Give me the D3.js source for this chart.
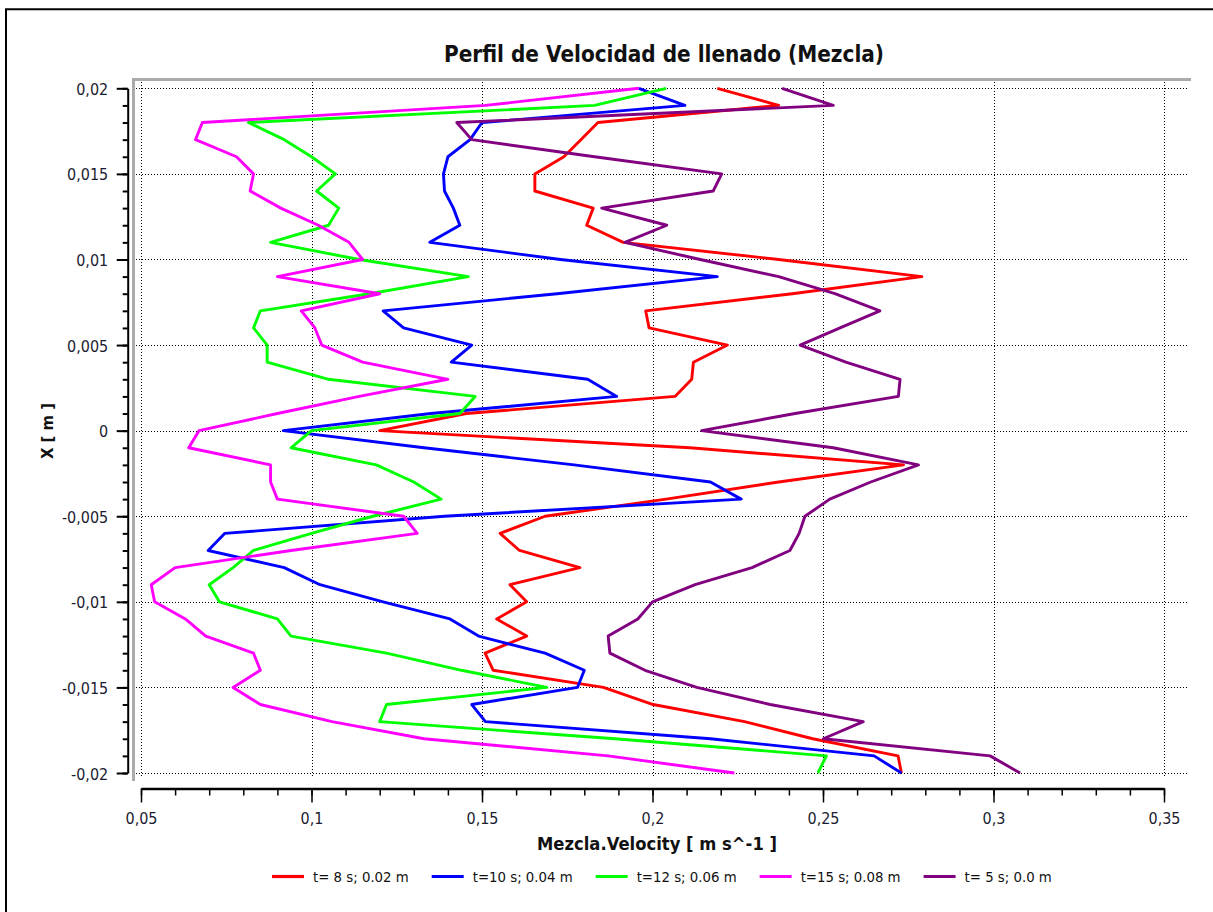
<!DOCTYPE html>
<html>
<head>
<meta charset="utf-8">
<script src="https://cdn.jsdelivr.net/npm/d3@7"></script>
<style>
  html, body { margin: 0; padding: 0; background: #fff; }
  svg { display: block; }
  text { font-family: "DejaVu Sans", Verdana, sans-serif; }
</style>
</head>
<body>
<svg id="chart" width="1213" height="912"></svg>
<script>
// Sample positions along the probe line, X [m]
const positions = [
  0.020, 0.019, 0.018, 0.017, 0.016, 0.015, 0.014, 0.013, 0.012, 0.011,
  0.010, 0.009, 0.008, 0.007, 0.006, 0.005, 0.004, 0.003, 0.002, 0.001,
  0.000, -0.001, -0.002, -0.003, -0.004, -0.005, -0.006, -0.007, -0.008, -0.009,
  -0.010, -0.011, -0.012, -0.013, -0.014, -0.015, -0.016, -0.017, -0.018, -0.019,
  -0.020
];

// Mezcla.Velocity [m s^-1] at each position
const velT8 = [
  0.219, 0.237, 0.184, 0.179, 0.174, 0.1655, 0.1655, 0.1826, 0.1807, 0.1914,
  0.237, 0.279, 0.241, 0.198, 0.199, 0.222, 0.212, 0.2115, 0.2066, 0.1454,
  0.120, 0.211, 0.2736, 0.237, 0.204, 0.1685, 0.1553, 0.161, 0.1787, 0.1582,
  0.1631, 0.1543, 0.1631, 0.1509, 0.1533, 0.1856, 0.2002, 0.227, 0.247, 0.272,
  0.273
];
const velT10 = [
  0.196, 0.2095, 0.150, 0.1465, 0.140, 0.1387, 0.139, 0.1416, 0.1435, 0.1347,
  0.173, 0.219, 0.172, 0.121, 0.127, 0.147, 0.141, 0.181, 0.1895, 0.135,
  0.0917, 0.133, 0.177, 0.217, 0.226, 0.139, 0.0746, 0.0697, 0.092, 0.1025,
  0.121, 0.1406, 0.149, 0.1685, 0.180, 0.178, 0.147, 0.151, 0.217, 0.265,
  0.273
];
const velT12 = [
  0.204, 0.183, 0.0815, 0.092, 0.100, 0.107, 0.1015, 0.108, 0.105, 0.088,
  0.114, 0.146, 0.117, 0.085, 0.083, 0.087, 0.087, 0.105, 0.148, 0.1435,
  0.100, 0.094, 0.119, 0.130, 0.138, 0.118, 0.100, 0.083, 0.077, 0.070,
  0.073, 0.090, 0.094, 0.122, 0.144, 0.169, 0.122, 0.120, 0.189, 0.251,
  0.2485
];
const velT15 = [
  0.196, 0.151, 0.068, 0.066, 0.078, 0.083, 0.082, 0.091, 0.102, 0.111,
  0.115, 0.090, 0.120, 0.097, 0.101, 0.103, 0.115, 0.140, 0.114, 0.090,
  0.067, 0.064, 0.088, 0.088, 0.090, 0.127, 0.131, 0.094, 0.060, 0.053,
  0.054, 0.063, 0.069, 0.083, 0.085, 0.077, 0.085, 0.106, 0.133, 0.187,
  0.224
];
const velT5 = [
  0.238, 0.253, 0.1426, 0.147, 0.183, 0.2203, 0.2178, 0.1851, 0.2042, 0.1919,
  0.214, 0.237, 0.2535, 0.2667, 0.255, 0.2433, 0.2567, 0.2726, 0.2721, 0.2418,
  0.2144, 0.253, 0.278, 0.264, 0.252, 0.2447, 0.243, 0.2403, 0.2292, 0.2125,
  0.200, 0.1957, 0.187, 0.1875, 0.1978, 0.213, 0.2345, 0.2618, 0.2501, 0.299,
  0.3078
];

const seriesNames = ["t= 8 s; 0.02 m", "t=10 s; 0.04 m", "t=12 s; 0.06 m", "t=15 s; 0.08 m", "t= 5 s; 0.0 m"];
const seriesValues = [velT8, velT10, velT12, velT15, velT5];
const seriesColors = ["#ff0000", "#0000ff", "#00ff00", "#ff00ff", "#800080"];

const xTickValues = [0.05, 0.1, 0.15, 0.2, 0.25, 0.3, 0.35];
const yTickValues = [0.02, 0.015, 0.01, 0.005, 0, -0.005, -0.01, -0.015, -0.02];

const chartTitle = "Perfil de Velocidad de llenado (Mezcla)";
const xTitle = "Mezcla.Velocity [ m s^-1 ]";
const yTitle = "X [ m ]";

// ---------------------------------------------------------------------------
const svg = d3.select("#chart");

const x = d3.scaleLinear().domain([0.05, 0.35]).range([141, 1164]);
const y = d3.scaleLinear().domain([-0.02, 0.02]).range([773, 88.3]);

const fmt = d => String(Math.round(d * 1000) / 1000).replace(".", ",");

// narrow the glyph run of a text element by a factor (or to a fixed width)
function fit(sel, factor, fixed) {
  sel.each(function () {
    const w = fixed != null ? fixed : this.getComputedTextLength() * factor;
    this.setAttribute("textLength", w);
    this.setAttribute("lengthAdjust", "spacingAndGlyphs");
  });
}

// outer frame
svg.append("path")
  .attr("d", "M6,912 V9.3 H1213")
  .attr("fill", "none")
  .attr("stroke", "#000")
  .attr("stroke-width", 2);

// plot frame (grey top and left edges)
svg.append("path")
  .attr("d", "M133.5,781 V79.5 H1191")
  .attr("fill", "none")
  .attr("stroke", "#ababab")
  .attr("stroke-width", 3);

// dotted grid
const grid = svg.append("g").attr("stroke", "#000").attr("stroke-width", 1)
  .attr("stroke-dasharray", "1,2");
grid.selectAll("line.v").data(xTickValues).join("line")
  .attr("class", "v")
  .attr("x1", d => Math.round(x(d)) + 0.5).attr("x2", d => Math.round(x(d)) + 0.5)
  .attr("y1", 82).attr("y2", 777);
grid.selectAll("line.h").data(yTickValues).join("line")
  .attr("class", "h")
  .attr("y1", d => Math.round(y(d)) + 0.5).attr("y2", d => Math.round(y(d)) + 0.5)
  .attr("x1", 136).attr("x2", 1188);

// y axis (left, with minor ticks every 0.001)
const yMinor = d3.range(-20, 21).map(k => k / 1000);
const yAxisG = svg.append("g").attr("transform", "translate(127.7,0)");
yAxisG.append("g")
  .call(d3.axisLeft(y).tickValues(yMinor).tickSize(5).tickSizeOuter(0).tickFormat(""))
  .call(g => g.select(".domain").remove());
const yMajor = yAxisG.append("g")
  .call(d3.axisLeft(y).tickValues(yTickValues).tickSize(11).tickSizeOuter(0)
    .tickPadding(8.5).tickFormat(fmt));
yAxisG.selectAll("line").attr("stroke", "#000").attr("stroke-width", 2);
yMajor.select(".domain").attr("stroke", "#000").attr("stroke-width", 2);
yMajor.selectAll("text")
  .attr("font-size", 16.5).attr("fill", "#1b1b30")
  .attr("font-family", "DejaVu Sans, sans-serif")
  .attr("dy", "0.37em")
  .call(fit, 0.87);

// x axis (bottom, with minor ticks every 0.01)
const xMinor = d3.range(5, 36).map(k => k / 100);
const xAxisG = svg.append("g").attr("transform", "translate(0,788.5)");
xAxisG.append("g")
  .call(d3.axisBottom(x).tickValues(xMinor).tickSize(7).tickSizeOuter(0).tickFormat(""))
  .call(g => g.select(".domain").remove());
const xMajor = xAxisG.append("g")
  .call(d3.axisBottom(x).tickValues(xTickValues).tickSize(14).tickSizeOuter(0)
    .tickPadding(10).tickFormat(fmt));
xAxisG.selectAll("line").attr("stroke", "#000").attr("stroke-width", 1.5);
xMajor.select(".domain").attr("stroke", "#000").attr("stroke-width", 2.5);
xMajor.selectAll("text")
  .attr("font-size", 16.5).attr("fill", "#1b1b30")
  .attr("font-family", "DejaVu Sans, sans-serif")
  .call(fit, 0.87);

// profile curves
const line = d3.line()
  .x(d => x(d.v))
  .y(d => y(d.p));

svg.append("g").selectAll("path.series")
  .data(seriesValues.map((vals, i) => ({
    color: seriesColors[i],
    pts: vals.map((v, k) => ({ v, p: positions[k] }))
  })))
  .join("path")
  .attr("class", "series")
  .attr("fill", "none")
  .attr("stroke", d => d.color)
  .attr("stroke-width", 2.9)
  .attr("stroke-linejoin", "round")
  .attr("d", d => line(d.pts));

// titles
svg.append("text")
  .attr("x", 664).attr("y", 62)
  .attr("text-anchor", "middle")
  .attr("font-size", 23).attr("font-weight", "bold").attr("fill", "#111")
  .text(chartTitle)
  .call(fit, 1, 440);

svg.append("text")
  .attr("x", 657).attr("y", 850)
  .attr("text-anchor", "middle")
  .attr("font-size", 18).attr("font-weight", "bold").attr("fill", "#111")
  .text(xTitle)
  .call(fit, 1, 240);

svg.append("text")
  .attr("transform", "translate(53,431) rotate(-90)")
  .attr("text-anchor", "middle")
  .attr("font-size", 16).attr("font-weight", "bold").attr("fill", "#111")
  .text(yTitle)
  .call(fit, 1, 56);

// legend
const legend = svg.append("g");
let lx = 272;
seriesNames.forEach((name, i) => {
  legend.append("line")
    .attr("x1", lx).attr("x2", lx + 32)
    .attr("y1", 876.5).attr("y2", 876.5)
    .attr("stroke", seriesColors[i]).attr("stroke-width", 3.2);
  const t = legend.append("text")
    .attr("x", lx + 41).attr("y", 882)
    .attr("font-size", 14).attr("fill", "#111")
    .text(name);
  t.call(fit, 0.95);
  const w = +t.attr("textLength");
  lx = lx + 41 + w + 23;
});
</script>
</body>
</html>
